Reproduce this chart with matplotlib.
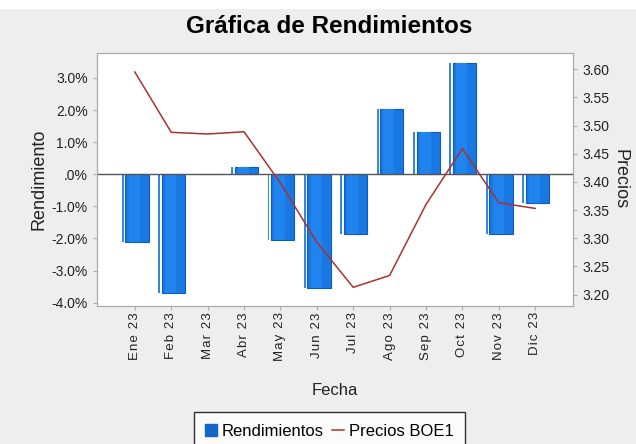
import numpy as np
import matplotlib
matplotlib.use("Agg")
import matplotlib.pyplot as plt
from matplotlib.patches import Patch
from matplotlib.lines import Line2D
from matplotlib.ticker import FuncFormatter

plt.rcParams['font.family'] = ['Liberation Sans', 'DejaVu Sans']

# datos
meses = ["Ene 23", "Feb 23", "Mar 23", "Abr 23", "May 23", "Jun 23",
         "Jul 23", "Ago 23", "Sep 23", "Oct 23", "Nov 23", "Dic 23"]
rendimientos = [-2.12, -3.71, 0.0, 0.22, -2.05, -3.55,
                -1.86, 2.03, 1.33, 3.46, -1.86, -0.88]   # en %
precios = [3.595, 3.488, 3.485, 3.489, 3.398, 3.293,
           3.213, 3.234, 3.360, 3.459, 3.363, 3.353]

fig = plt.figure(figsize=(6.36, 4.44), dpi=100, facecolor="#eeeeee")
fig.patches.append(plt.Rectangle((0, 0.982), 1, 0.018, transform=fig.transFigure,
                                 color="white", zorder=0))
ax = fig.add_axes([0.1525, 0.311, 0.7485, 0.570])
ax2 = ax.twinx()

x = np.arange(len(meses))
# barra principal + tira fina a la izquierda (estilo JFreeChart)
ax.bar(x + 0.06, rendimientos, width=0.64, color="#1a78e2",
       edgecolor="#0b5cc0", linewidth=0.8, zorder=3)
ax.bar(x - 0.02, rendimientos, width=0.3, color="#2183ee",
       linewidth=0, zorder=3)
ax.bar(x - 0.33, rendimientos, width=0.05, color="#3a86d8",
       linewidth=0, zorder=3)
ax.axhline(0, color="#555555", linewidth=1, zorder=4)

ax.set_xlim(-1.04, 12.04)
ax.set_ylim(-4.1, 3.78)
ax.set_yticks(np.arange(-4, 4, 1.0))
ax.yaxis.set_major_formatter(FuncFormatter(
    lambda v, p: ".0%" if abs(v) < 0.01 else "%.1f%%" % v))
ax.set_xticks(x)
ax.set_xticklabels(["\u200a".join(m) for m in meses], rotation=90, fontsize=9.5)
ax.tick_params(axis="x", pad=1.5)
ax.set_ylabel("Rendimiento", fontsize=13, color="#222222", labelpad=3)
ax.set_xlabel("Fecha", fontsize=12, color="#222222", labelpad=16)

ax2.plot(x, precios, color="#a83232", linewidth=1.1, zorder=5)
ax2.set_ylim(3.18, 3.629)
ax2.set_yticks(np.arange(3.20, 3.61, 0.05))
ax2.yaxis.set_major_formatter(FuncFormatter(lambda v, p: "%.2f" % v))
ax2.set_ylabel("Precios", fontsize=13, color="#222222", rotation=-90, labelpad=14)

for a in (ax, ax2):
    for s in a.spines.values():
        s.set_color("#aaaaaa")
        s.set_linewidth(0.8)
    a.tick_params(axis="y", colors="#aaaaaa", labelcolor="#222222", labelsize=10, length=3)
ax.tick_params(axis="x", colors="#aaaaaa", labelcolor="#222222", length=3)
ax.set_zorder(ax2.get_zorder() - 1)
ax.set_facecolor("white")
ax2.patch.set_visible(False)

fig.suptitle("Gráfica de Rendimientos", fontsize=17.5, fontweight="bold",
             x=0.517, y=0.941, va="center")

handles = [Patch(facecolor="#1466c8", edgecolor="#1466c8"),
           Line2D([0], [0], color="#a83232", linewidth=1.1)]
leg = fig.legend(handles, ["Rendimientos", "Precios BOE1"], loc="upper center",
                 bbox_to_anchor=(0.518, 0.09), ncol=2, fontsize=12,
                 frameon=True, fancybox=False, handlelength=0.7,
                 handleheight=0.7, handletextpad=0.3, columnspacing=0.5,
                 borderpad=0.7)
leg.get_frame().set_edgecolor("black")
leg.get_frame().set_facecolor("white")
leg.get_frame().set_linewidth(1)

fig.savefig("out.png", dpi=100, facecolor=fig.get_facecolor())
